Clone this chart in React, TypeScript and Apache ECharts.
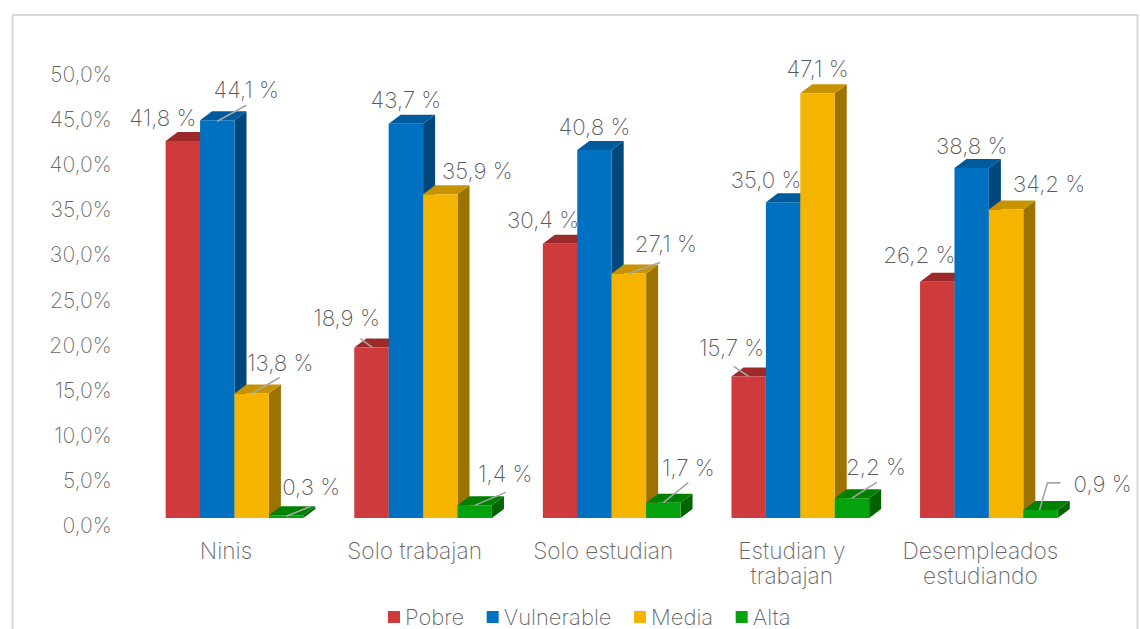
import React, { useEffect, useRef } from "react";
import * as echarts from "echarts";

const categories = ["Ninis", "Solo trabajan", "Solo estudian", "Estudian y\ntrabajan", "Desempleados\nestudiando"];
const pobre = [41.8, 18.9, 30.4, 15.7, 26.2];
const vulnerable = [44.1, 43.7, 40.8, 35.0, 38.8];
const media = [13.8, 35.9, 27.1, 47.1, 34.2];
const alta = [0.3, 1.4, 1.7, 2.2, 0.9];

const FONT = "Inter, 'Noto Sans', sans-serif";
const FONT_WEIGHT = 200;
const TICK_SIZE = 21.2;
const WORD_SIZE = 22.7;
const LEGEND_SIZE = 22;
const LABEL_SIZE = 22.3;
const BAR_SHARE = 0.1825;
const DEPTH_X = 12;
const DEPTH_Y = 9;
const FRONT_X = 8.5;
const FRONT_Y = -7;

type Place = { dx: number; dy: number; leader?: number[][] };

const pobrePlaces: Place[] = [
  { dx: -20, dy: -23 },
  { dx: -25, dy: -30, leader: [[-11, -9], [1, 0]] },
  { dx: -17, dy: -24 },
  { dx: -17, dy: -29, leader: [[-15, -10], [0, 0]] },
  { dx: -18, dy: -27 },
];
const vulnerablePlaces: Place[] = [
  { dx: 29, dy: -31, leader: [[0, 1], [29, -15]] },
  { dx: 0, dy: -24 },
  { dx: 0, dy: -23 },
  { dx: -17, dy: -23 },
  { dx: 0, dy: -23 },
];
const mediaPlaces: Place[] = [
  { dx: 28.5, dy: -31.5, leader: [[0, 0], [28, -16]] },
  { dx: 37, dy: -24 },
  { dx: 37, dy: -29.6, leader: [[0, 0], [31, -11]] },
  { dx: 0, dy: -25 },
  { dx: 43, dy: -26.5 },
];
const altaPlaces: Place[] = [
  { dx: 25, dy: -29, leader: [[0, 1], [25, -9]] },
  { dx: 30.5, dy: -32, leader: [[0, 0], [31, -13]] },
  { dx: 25, dy: -35, leader: [[0, 0], [25, -20]] },
  { dx: 24, dy: -32, leader: [[0, 0], [25, -16]] },
  { dx: 62, dy: -26, leader: [[-1, 0], [7, -27], [20, -27]] },
];

const pct = (v: number) => v.toFixed(1).replace(".", ",");

function makeSeries(
  name: string,
  values: number[],
  slot: number,
  places: Place[],
  front: string,
  top: string,
  side: string,
) {
  return {
    name,
    type: "custom",
    clip: false,
    itemStyle: { color: front },
    encode: { x: 0, y: 1 },
    data: values.map((v, i) => [i, v]),
    renderItem: (_p: any, api: any) => {
      const idx = api.value(0);
      const v = api.value(1);
      const band = api.size([1, 0])[0];
      const w = band * BAR_SHARE;
      const [cx, yRaw] = api.coord([idx, v]);
      const y0 = api.coord([idx, 0])[1] + FRONT_Y;
      const y = yRaw + FRONT_Y;
      const x0 = cx + FRONT_X + (slot - 2) * w;
      const x1 = x0 + w;
      const mid = x0 + w / 2;
      const place = places[idx];
      const children: any[] = [
        {
          type: "polygon",
          shape: { points: [[x1, y], [x1 + DEPTH_X, y - DEPTH_Y], [x1 + DEPTH_X, y0 - DEPTH_Y], [x1, y0]] },
          style: { fill: side },
        },
        {
          type: "polygon",
          shape: { points: [[x0, y], [x0 + DEPTH_X, y - DEPTH_Y], [x1 + DEPTH_X, y - DEPTH_Y], [x1, y]] },
          style: { fill: top },
        },
        { type: "rect", shape: { x: x0, y, width: w, height: y0 - y }, style: { fill: front } },
      ];
      if (place.leader) {
        children.push({
          type: "polyline",
          z2: 50,
          shape: { points: place.leader.map(([a, b]) => [mid + a, y + b]) },
          style: { fill: "none", stroke: "#a6a6a6", lineWidth: 1.6 },
        });
      }
      children.push({
        type: "text",
        z2: 60,
        style: {
          text: `${pct(v)} %`,
          x: mid + place.dx,
          y: y + place.dy,
          align: "center",
          verticalAlign: "middle",
          fill: "#595959",
          fontFamily: FONT,
          fontWeight: FONT_WEIGHT,
          fontSize: LABEL_SIZE,
        },
      });
      return { type: "group", children };
    },
  };
}

export default function App() {
  const ref = useRef<HTMLDivElement>(null);
  useEffect(() => {
    const chart = echarts.init(ref.current!, undefined, { renderer: "svg" });
    chart.setOption({
      animation: false,
      backgroundColor: "#ffffff",
      grid: { left: 131.7, width: 943, top: 74, height: 451 },
      xAxis: {
        type: "category",
        data: categories,
        axisLine: { show: false },
        axisTick: { show: false },
        axisLabel: {
          interval: 0,
          hideOverlap: false,
          color: "#666666",
          fontFamily: FONT,
          fontWeight: FONT_WEIGHT,
          fontSize: WORD_SIZE,
          lineHeight: 25,
          margin: 13,
        },
      },
      yAxis: {
        type: "value",
        min: 0,
        max: 50,
        interval: 5,
        splitLine: { show: false },
        axisLine: { show: false },
        axisTick: { show: false },
        axisLabel: {
          color: "#666666",
          fontFamily: FONT,
          fontWeight: FONT_WEIGHT,
          fontSize: TICK_SIZE,
          margin: 20,
          formatter: (v: number) => `${pct(v)}%`,
        },
      },
      legend: {
        left: 388,
        top: 606,
        padding: 0,
        icon: "rect",
        itemWidth: 12,
        itemHeight: 12,
        itemGap: 22.5,
        textStyle: { color: "#666666", fontFamily: FONT, fontWeight: FONT_WEIGHT, fontSize: LEGEND_SIZE },
        data: ["Pobre", "Vulnerable", "Media", "Alta"],
      },
      graphic: [
        {
          type: "rect",
          silent: true,
          shape: { x: 12.5, y: 15, width: 1125, height: 640 },
          style: { fill: "none", stroke: "#d9d9d9", lineWidth: 2 },
        },
      ],
      series: [
        makeSeries("Pobre", pobre, 0, pobrePlaces, "#cf3a3c", "#9c2a2b", "#9c2a2b"),
        makeSeries("Vulnerable", vulnerable, 1, vulnerablePlaces, "#0070c0", "#005a9e", "#00487c"),
        makeSeries("Media", media, 2, mediaPlaces, "#f4b400", "#c79300", "#9c7300"),
        makeSeries("Alta", alta, 3, altaPlaces, "#04a20c", "#018000", "#006400"),
      ],
    });
    return () => chart.dispose();
  }, []);
  return <div ref={ref} style={{ position: "fixed", left: 0, top: 0, width: 1140, height: 629 }} />;
}
